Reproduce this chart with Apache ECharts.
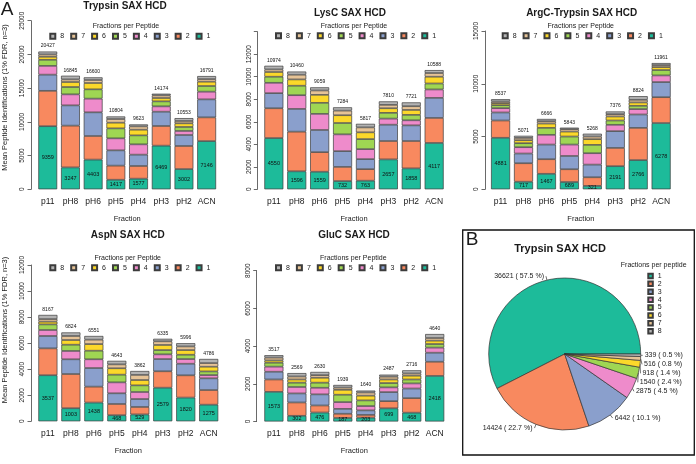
<!DOCTYPE html>
<html><head><meta charset="utf-8">
<script src="https://cdn.jsdelivr.net/npm/echarts@6/dist/echarts.min.js"></script>
<style>html,body{margin:0;padding:0;background:#fff}#c{width:696px;height:464px}</style>
</head><body><div id="c"></div>
<script>
// ---------- DATA ----------
const categories = ['p11','pH8','pH6','pH5','pH4','pH3','pH2','ACN'];
const fractionLevels = ['1','2','3','4','5','6','7','8'];

// segments: row k = peptides seen in (k+1) fractions, across categories
const trypsinSeg = [
  [9359,3247,4403,1417,1577,6469,3002,7146],
  [5240,6190,3500,2090,1880,2920,3420,3520],
  [2400,3010,3510,2270,1680,2120,1630,2670],
  [1300,1630,2030,1780,1530,790,600,1140],
  [900,1090,1380,1480,1330,740,590,840],
  [450,740,940,840,840,500,540,640],
  [350,390,445,545,490,390,350,390],
  [427,548,392,382,296,245,421,445]
];
const trypsinTotals = [20427,16845,16600,10804,9623,14174,10553,16791];

const lyscSeg = [
  [4550,1596,1559,732,763,2657,1858,4117],
  [2650,3524,1741,1258,1027,1633,2432,2223],
  [1340,2020,1970,1400,890,1450,1390,1780],
  [920,1220,1430,1490,890,540,450,750],
  [540,840,980,1010,890,510,480,530],
  [420,560,710,690,600,410,440,600],
  [230,420,390,410,440,300,330,330],
  [324,280,279,294,317,310,341,258]
];
const lyscTotals = [10974,10460,9059,7284,5817,7810,7721,10588];

const argcSeg = [
  [4881,717,1467,689,321,2191,2766,6278],
  [1639,1753,1383,1211,819,1729,3054,2452],
  [760,920,1390,1260,1200,1590,1270,1430],
  [410,600,920,1080,1080,600,510,630],
  [280,380,660,760,790,410,310,510],
  [190,280,410,470,540,380,320,280],
  [160,220,220,230,250,220,250,190],
  [217,201,216,143,268,256,344,191]
];
const argcTotals = [8537,5071,6666,5843,5268,7376,8824,11961];

const aspnSeg = [
  [3537,1003,1438,468,529,2579,1820,1275],
  [2063,2627,1222,862,571,1261,1710,1125],
  [950,1130,1430,820,610,940,890,900],
  [460,640,670,840,540,360,360,250],
  [430,480,660,590,510,330,330,280],
  [210,360,510,490,410,390,360,360],
  [200,310,340,300,390,280,280,280],
  [317,274,281,273,302,195,246,316]
];
const aspnTotals = [8167,6824,6551,4643,3862,6335,5996,4786];

const glucSeg = [
  [1573,302,476,187,203,699,468,2418],
  [657,708,374,223,147,381,772,752],
  [410,480,590,260,240,480,510,480],
  [270,340,350,360,230,250,270,270],
  [210,230,270,390,300,230,210,190],
  [120,170,260,260,250,190,200,180],
  [150,160,140,120,170,150,120,140],
  [127,179,170,139,100,107,166,210]
];
const glucTotals = [3517,2569,2630,1939,1640,2487,2716,4640];

const pieValues = [36621,14424,6442,2875,1540,918,516,339];

// ---------- STYLE / LAYOUT ----------
const colors = ['#1dbb9a','#f8895f','#8a9fcc','#ee8bcb','#9fd653','#fcd82a','#e6c396','#b3b3b3'];
const FF = '"Liberation Sans", Arial, sans-serif';
const ink = '#1a1a1a';

const panels = [
  {name:'Trypsin SAX HCD', seg:trypsinSeg, tot:trypsinTotals, max:25000, interval:5000, hideTop:false,
   grid:{left:36.4, top:20.7, width:181.6, height:168.6}, offset:5.4,
   title:[125,6], legLeft:49.3, legY:36.7, legTitle:[126,26], ylab:[4.5,97.5]},
  {name:'LysC SAX HCD', seg:lyscSeg, tot:lyscTotals, max:14000, interval:2000, hideTop:true,
   grid:{left:262.4, top:31.7, width:183.2, height:157.6}, offset:5.1,
   title:[350,13.5], legLeft:275, legY:36.2, legTitle:[354,26]},
  {name:'ArgC-Trypsin SAX HCD', seg:argcSeg, tot:argcTotals, max:15000, interval:5000, hideTop:false,
   grid:{left:489.1, top:31, width:183.5, height:158.3}, offset:4.1,
   title:[581.7,13.5], legLeft:501.7, legY:36.2, legTitle:[580.7,26]},
  {name:'AspN SAX HCD', seg:aspnSeg, tot:aspnTotals, max:12000, interval:2000, hideTop:false,
   grid:{left:36.4, top:265, width:183.8, height:156.3}, offset:5.4,
   title:[127.8,235], legLeft:49.3, legY:268.3, legTitle:[127.7,257.7], ylab:[4.5,330]},
  {name:'GluC SAX HCD', seg:glucSeg, tot:glucTotals, max:8000, interval:2000, hideTop:false,
   grid:{left:262.4, top:270.7, width:183.8, height:150.8}, offset:5.7,
   title:[354,235], legLeft:275, legY:268.3, legTitle:[353.3,257.7]}
];

const grids=[], xAxes=[], yAxes=[], series=[], legends=[], graphics=[];

function txt(x,y,text,font,extra){
  return Object.assign({type:'text', x:x, y:y, silent:true,
    style:{text:text, font:font, fill:ink, textAlign:'center', textVerticalAlign:'middle', align:'center', verticalAlign:'middle'}}, extra||{});
}

panels.forEach((p,i)=>{
  grids.push(Object.assign({containLabel:false}, p.grid));
  xAxes.push({type:'category', gridIndex:i, data:categories,
    axisLine:{show:false}, axisTick:{show:false},
    axisLabel:{interval:0, fontSize:8.5, margin:8, color:ink, fontFamily:FF},
    name:'Fraction', nameLocation:'middle', nameGap:25.5,
    nameTextStyle:{fontSize:7.5, color:ink, fontFamily:FF}});
  yAxes.push({type:'value', gridIndex:i, min:0, max:p.max, interval:p.interval, offset:p.offset,
    axisLine:{show:true, lineStyle:{color:'#444', width:0.8}},
    axisTick:{show:true, length:3.5, lineStyle:{color:'#444', width:0.8}},
    splitLine:{show:false},
    axisLabel:{rotate:90, fontSize:6.5, margin:5, color:ink, fontFamily:FF,
      formatter:(v)=> (p.hideTop && v===p.max) ? '' : String(v)}});
  p.seg.forEach((vals,j)=>{
    const s = {type:'bar', name:fractionLevels[j], xAxisIndex:i, yAxisIndex:i, stack:'s'+i,
      data:vals, barCategoryGap:'17%',
      itemStyle:{color:colors[j], borderColor:'#3c3c3c', borderWidth:0.7},
      emphasis:{disabled:true}, animation:false};
    if(j===0){
      s.label={show:true, position:'inside', fontSize:5.5, color:'#111', fontFamily:FF};
    } else if(j===p.seg.length-1){
      s.label={show:true, position:'top', distance:3, fontSize:5, color:'#111', fontFamily:FF,
        formatter:(q)=> String(p.tot[q.dataIndex])};
    }
    series.push(s);
  });
  legends.push({orient:'horizontal', left:p.legLeft, top:p.legY-4, padding:0,
    itemWidth:5, itemHeight:5, itemGap:6, icon:'rect', selectedMode:false,
    textStyle:{fontSize:7, color:ink, fontFamily:FF},
    data:fractionLevels.slice().reverse()});
  graphics.push(txt(p.title[0], p.title[1], p.name, 'bold 10px '+FF));
  graphics.push(txt(p.legTitle[0], p.legTitle[1], 'Fractions per Peptide', '7px '+FF));
  if(p.ylab){
    graphics.push(txt(p.ylab[0], p.ylab[1], 'Mean Peptide Identifications (1% FDR, n=3)', '7.5px '+FF, {rotation:Math.PI/2}));
  }
});

// Panel B pie
const pieTotal = pieValues.reduce((a,b)=>a+b,0);
series.push({type:'pie', center:[564.7,354], radius:76, startAngle:0, clockwise:false,
  avoidLabelOverlap:true, animation:false, emphasis:{disabled:true},
  data: pieValues.map((v,k)=>({name:fractionLevels[k], value:v, itemStyle:{color:colors[k]}})),
  itemStyle:{borderColor:'#333', borderWidth:0.7},
  label:{show:true, fontSize:7, lineHeight:5.9, color:ink, fontFamily:FF, distanceToLabelLine:2,
    formatter:(q)=> q.value+' ( '+(q.value/pieTotal*100).toFixed(1)+' %)'},
  labelLine:{show:true, length:4, length2:0, lineStyle:{color:'#333', width:0.7}},
  labelLayout:{hideOverlap:false}
});
legends.push({orient:'vertical', left:647.3, top:272, padding:0,
  itemWidth:4.5, itemHeight:4.5, itemGap:0, icon:'rect', selectedMode:false,
  textStyle:{fontSize:7, lineHeight:7.9, color:ink, fontFamily:FF},
  data:fractionLevels.slice()});

graphics.push(txt(7,10,'A','19px '+FF));
graphics.push({type:'rect', shape:{x:462.7, y:230, width:231.6, height:225}, silent:true,
  style:{fill:'none', stroke:'#111', lineWidth:1.3}});
graphics.push(txt(472,240,'B','19px '+FF));
graphics.push(txt(560,249.3,'Trypsin SAX HCD','bold 11px '+FF));
graphics.push(txt(653.7,265,'Fractions per peptide','7px '+FF));

const chart = echarts.init(document.getElementById('c'), null, {renderer:'canvas'});
chart.setOption({
  animation:false,
  textStyle:{fontFamily:FF},
  grid:grids, xAxis:xAxes, yAxis:yAxes, series:series, legend:legends, graphic:graphics
});
</script></body></html>
